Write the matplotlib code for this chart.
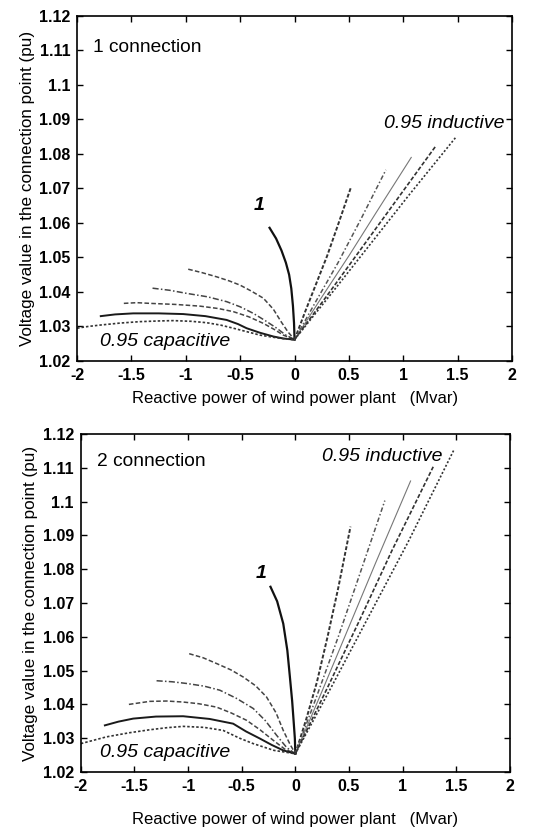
"""Voltage at the connection point vs reactive power, two connection cases."""

import matplotlib
matplotlib.use("Agg")
import matplotlib.pyplot as plt

plt.rcParams["font.family"] = ["Liberation Sans", "DejaVu Sans"]

# ---- data (Q in Mvar, U in pu) ----
# connection 1
c1_pf1_q = [-0.23, -0.17, -0.12, -0.08, -0.05, -0.03, -0.015, -0.005, 0.0]
c1_pf1_u = [1.0586, 1.0555, 1.0520, 1.0485, 1.0450, 1.0410, 1.0360, 1.0310, 1.0262]
c1_cap_q = [
    [-0.978, -0.85, -0.717, -0.6, -0.502, -0.4, -0.287, -0.195, -0.12, -0.06, 0.0],
    [-1.306, -1.15, -0.993, -0.8, -0.625, -0.5, -0.379, -0.27, -0.164, -0.08, 0.0],
    [-1.570, -1.45, -1.331, -1.1, -0.870, -0.7, -0.563, -0.42, -0.287, -0.19, -0.103, 0.0],
    [-1.782, -1.65, -1.484, -1.25, -1.024, -0.82, -0.625, -0.52, -0.441, -0.32, -0.195, -0.1, 0.0],
    [-2.0, -1.9, -1.791, -1.6, -1.423, -1.25, -1.116, -0.95, -0.809, -0.68, -0.563, -0.44, -0.318,
     -0.16, 0.0],
]
c1_cap_u = [
    [1.0466, 1.0456, 1.0444, 1.0432, 1.0420, 1.0403, 1.0382, 1.0350, 1.0312, 1.0284, 1.0262],
    [1.0411, 1.0405, 1.0396, 1.0386, 1.0372, 1.0357, 1.0338, 1.0317, 1.0295, 1.0275, 1.0262],
    [1.0367, 1.0369, 1.0367, 1.0364, 1.0359, 1.0352, 1.0343, 1.0328, 1.0309, 1.0292, 1.0275, 1.0262],
    [1.0330, 1.0335, 1.0338, 1.0338, 1.0336, 1.0330, 1.0319, 1.0307, 1.0295, 1.0282, 1.0271, 1.0265,
     1.0262],
    [1.0295, 1.0300, 1.0304, 1.0310, 1.0314, 1.0316, 1.0317, 1.0315, 1.0311, 1.0304, 1.0295, 1.0285,
     1.0275, 1.0267, 1.0261],
]
c1_ind_q = [
    [0.0, 0.1, 0.2, 0.3, 0.4, 0.517],
    [0.0, 0.2, 0.4, 0.6, 0.840],
    [0.0, 0.25, 0.5, 0.75, 1.073],
    [0.0, 0.3, 0.6, 0.9, 1.294],
    [0.0, 0.35, 0.7, 1.05, 1.487],
]
c1_ind_u = [
    [1.0262, 1.0345, 1.0425, 1.0505, 1.0595, 1.0702],
    [1.0262, 1.0375, 1.0485, 1.0605, 1.0754],
    [1.0262, 1.0385, 1.0505, 1.0630, 1.0790],
    [1.0262, 1.0390, 1.0520, 1.0650, 1.0821],
    [1.0262, 1.0400, 1.0540, 1.0680, 1.0850],
]

# connection 2
c2_pf1_q = [-0.232, -0.17, -0.113, -0.075, -0.051, -0.03, -0.015, -0.005, 0.0]
c2_pf1_u = [1.0748, 1.0705, 1.0639, 1.0560, 1.0481, 1.0410, 1.0345, 1.0300, 1.0254]
c2_cap_q = [
    [-0.990, -0.86, -0.735, -0.6, -0.486, -0.37, -0.269, -0.18, -0.113, -0.05, 0.0],
    [-1.294, -1.15, -1.015, -0.85, -0.704, -0.55, -0.393, -0.28, -0.176, -0.08, 0.0],
    [-1.552, -1.357, -1.2, -1.046, -0.9, -0.735, -0.6, -0.455, -0.33, -0.207, -0.1, 0.0],
    [-1.776, -1.65, -1.512, -1.3, -1.046, -0.8, -0.580, -0.46, -0.331, -0.22, -0.113, 0.0],
    [-2.0, -1.88, -1.761, -1.55, -1.357, -1.2, -1.046, -0.85, -0.673, -0.52, -0.393, -0.2, 0.0],
]
c2_cap_u = [
    [1.0550, 1.0538, 1.0521, 1.0502, 1.0481, 1.0455, 1.0422, 1.0375, 1.0323, 1.0282, 1.0254],
    [1.0470, 1.0467, 1.0462, 1.0454, 1.0442, 1.0418, 1.0388, 1.0352, 1.0309, 1.0272, 1.0254],
    [1.0400, 1.0409, 1.0410, 1.0407, 1.0402, 1.0392, 1.0375, 1.0353, 1.0325, 1.0294, 1.0268, 1.0254],
    [1.0338, 1.0349, 1.0358, 1.0364, 1.0365, 1.0357, 1.0343, 1.0320, 1.0299, 1.0280, 1.0264, 1.0254],
    [1.0284, 1.0294, 1.0304, 1.0316, 1.0325, 1.0331, 1.0335, 1.0332, 1.0323, 1.0300, 1.0284, 1.0264,
     1.0254],
]
c2_ind_q = [
    [0.0, 0.1, 0.2, 0.3, 0.4, 0.514],
    [0.0, 0.2, 0.4, 0.6, 0.834],
    [0.0, 0.25, 0.5, 0.75, 1.074],
    [0.0, 0.3, 0.6, 0.9, 1.285],
    [0.0, 0.35, 0.7, 1.05, 1.478],
]
c2_ind_u = [
    [1.0254, 1.0355, 1.0465, 1.0600, 1.0745, 1.0926],
    [1.0254, 1.0425, 1.0600, 1.0785, 1.1003],
    [1.0254, 1.0440, 1.0630, 1.0820, 1.1061],
    [1.0254, 1.0450, 1.0650, 1.0855, 1.1103],
    [1.0254, 1.0460, 1.0670, 1.0880, 1.1153],
]

xticks = [-2, -1.5, -1, -0.5, 0, 0.5, 1, 1.5, 2]
xticklabels = ["-2", "-1.5", "-1", "-0.5", "0", "0.5", "1", "1.5", "2"]
yticks = [1.02, 1.03, 1.04, 1.05, 1.06, 1.07, 1.08, 1.09, 1.1, 1.11, 1.12]
yticklabels = ["1.02", "1.03", "1.04", "1.05", "1.06", "1.07", "1.08", "1.09", "1.1", "1.11", "1.12"]

cap_styles = [
    dict(color="#444444", ls=(0, (3, 1.5)), lw=1.1),
    dict(color="#444444", ls=(0, (4, 1.5, 1, 1.5)), lw=1.1),
    dict(color="#444444", ls=(0, (3, 1.5)), lw=1.1),
    dict(color="#1a1a1a", ls="-", lw=1.4),
    dict(color="#333333", ls=(0, (1.5, 1.2)), lw=1.2),
]
ind_styles = [
    dict(color="#333333", ls=(0, (2, 1)), lw=1.4),
    dict(color="#555555", ls=(0, (3, 1.5, 1, 1.5)), lw=1.1),
    dict(color="#777777", ls="-", lw=0.8),
    dict(color="#333333", ls=(0, (2.5, 1.2)), lw=1.2),
    dict(color="#333333", ls=(0, (1.2, 1.2)), lw=1.2),
]


def draw_panel(ax, pf1_q, pf1_u, cap_q, cap_u, ind_q, ind_u, name, lab):
    ax.plot(pf1_q, pf1_u, color="#111111", lw=1.6)
    for q, u, st in zip(cap_q, cap_u, cap_styles):
        ax.plot(q, u, **st)
    for q, u, st in zip(ind_q, ind_u, ind_styles):
        ax.plot(q, u, **st)
    ax.set_xlim(-2, 2)
    ax.set_ylim(1.02, 1.12)
    ax.set_xticks(xticks)
    ax.set_xticklabels(xticklabels, fontweight="bold", fontsize=11.5)
    ax.set_yticks(yticks)
    ax.set_yticklabels(yticklabels, fontweight="bold", fontsize=11.5)
    ax.tick_params(direction="in", top=True, right=True, length=4, width=1, pad=5)
    for s in ax.spines.values():
        s.set_linewidth(1.2)
    ax.set_xlabel("Reactive power of wind power plant   (Mvar)", fontsize=12,
                  labelpad=lab["xpad"])
    ax.set_ylabel("Voltage value in the connection point (pu)", fontsize=12.3, labelpad=3)
    ax.text(-1.85, lab["conn_y"], name, fontsize=13.8, va="center")
    ax.text(lab["ind_x"], lab["ind_y"], "0.95 inductive", fontsize=14,
            style="italic", va="center")
    ax.text(lab["cap_x"], lab["cap_y"], "0.95 capacitive", fontsize=14,
            style="italic", va="center")
    ax.text(lab["one_x"], lab["one_y"], "1", fontsize=14, style="italic",
            fontweight="bold", va="center")


fig = plt.figure(figsize=(5.39, 8.27), dpi=100)
ax1 = fig.add_axes([0.143, 0.5635, 0.807, 0.4172])
ax2 = fig.add_axes([0.150, 0.0665, 0.796, 0.4087])

draw_panel(ax1, c1_pf1_q, c1_pf1_u, c1_cap_q, c1_cap_u, c1_ind_q, c1_ind_u,
           "1 connection",
           dict(conn_y=1.111, ind_x=0.82, ind_y=1.0889, cap_x=-1.79, cap_y=1.0256,
                one_x=-0.38, one_y=1.0652, xpad=6))
draw_panel(ax2, c2_pf1_q, c2_pf1_u, c2_cap_q, c2_cap_u, c2_ind_q, c2_ind_u,
           "2 connection",
           dict(conn_y=1.1118, ind_x=0.25, ind_y=1.1133, cap_x=-1.82, cap_y=1.0259,
                one_x=-0.37, one_y=1.0787, xpad=13))

fig.savefig("out.png", dpi=100)
